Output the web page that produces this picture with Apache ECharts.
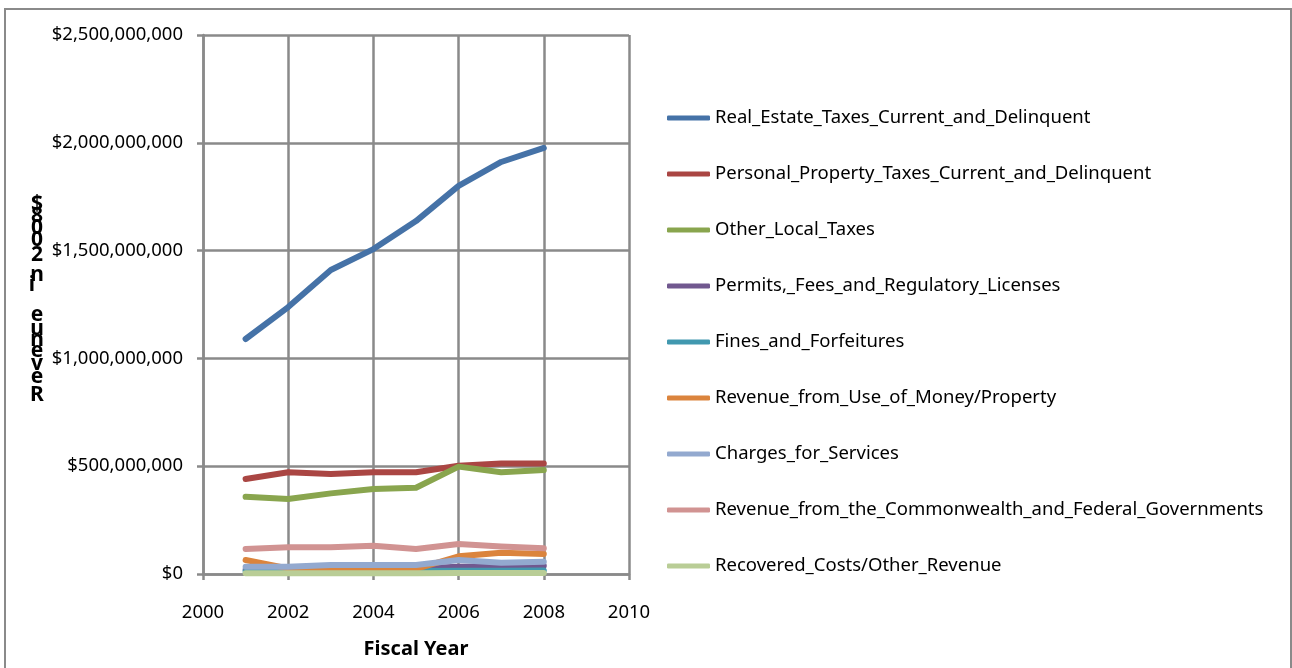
<!DOCTYPE html>
<html>
<head>
<meta charset="utf-8">
<title>Revenue by Source</title>
<script src="https://cdn.jsdelivr.net/npm/echarts@6/dist/echarts.min.js"></script>
<style>
  html, body { margin: 0; padding: 0; background: #ffffff; }
  #chart { width: 1292px; height: 668px; }
</style>
</head>
<body>
<div id="chart"></div>
<script>
// Fiscal years on the x axis
const years = [2001, 2002, 2003, 2004, 2005, 2006, 2007, 2008];

// Revenue by source, in dollars
const realEstate     = [1090e6, 1238e6, 1410e6, 1507e6, 1637e6, 1800e6, 1911e6, 1976e6];
const personalProp   = [441e6, 472e6, 464e6, 472e6, 472e6, 502e6, 513e6, 513e6];
const otherLocal     = [358e6, 348e6, 374e6, 394e6, 400e6, 498e6, 472e6, 482e6];
const permits        = [20e6, 22e6, 24e6, 25e6, 26e6, 34e6, 36e6, 38e6];
const fines          = [12e6, 12e6, 13e6, 13e6, 14e6, 15e6, 15e6, 16e6];
const useOfMoney     = [65e6, 26e6, 22e6, 22e6, 24e6, 82e6, 99e6, 93e6];
const charges        = [34e6, 34e6, 42e6, 42e6, 42e6, 65e6, 52e6, 57e6];
const commonwealth   = [116e6, 124e6, 124e6, 131e6, 116e6, 139e6, 127e6, 119e6];
const recovered      = [4e6, 4e6, 4e6, 4e6, 4e6, 5e6, 5e6, 5e6];

const seriesNames = [
  'Real_Estate_Taxes_Current_and_Delinquent',
  'Personal_Property_Taxes_Current_and_Delinquent',
  'Other_Local_Taxes',
  'Permits,_Fees_and_Regulatory_Licenses',
  'Fines_and_Forfeitures',
  'Revenue_from_Use_of_Money/Property',
  'Charges_for_Services',
  'Revenue_from_the_Commonwealth_and_Federal_Governments',
  'Recovered_Costs/Other_Revenue'
];
const seriesValues = [realEstate, personalProp, otherLocal, permits, fines,
                      useOfMoney, charges, commonwealth, recovered];
const seriesColors = ['#4572A7', '#AA4643', '#89A54E', '#71588F', '#4198AF',
                      '#DB843D', '#93A9CF', '#D19392', '#B9CD96'];

// Axis tick settings
const xMin = 2000, xMax = 2010, xStep = 2;
const yMin = 0, yMax = 2500000000, yStep = 500000000;

const xTitle = 'Fiscal Year';
// Vertical title, drawn one upright glyph at a time from the bottom up
const yTitleGlyphs = ['R', 'e', 'v', 'e', 'n', 'u', 'e', 'i', 'n', '2', '0', '0', '8', '$'];
const yTitleY      = [395, 377, 364, 351, 340, 329, 315, 285, 275, 255, 240, 228, 216, 204];
const yTitleX      = [37, 37, 37, 37, 37, 37, 37, 32, 37, 37, 37, 37, 37, 37];

const FONT = '"Noto Sans", "DejaVu Sans", sans-serif';
const GRID_COLOR = '#8a8a8a';

function money(v) {
  return '$' + Math.round(v).toString().replace(/\B(?=(\d{3})+(?!\d))/g, ',');
}

const chart = echarts.init(document.getElementById('chart'), null, { renderer: 'canvas' });

const series = seriesNames.map((name, i) => ({
  name: name,
  type: 'line',
  data: years.map((y, j) => [y, seriesValues[i][j]]),
  showSymbol: false,
  symbol: 'none',
  color: seriesColors[i],
  lineStyle: { width: 6, color: seriesColors[i], cap: 'round', join: 'round' },
  emphasis: { disabled: true },
  animation: false,
  z: 3
}));

const yTitle = yTitleGlyphs.map((ch, i) => ({
  type: 'text',
  x: yTitleX[i],
  y: yTitleY[i],
  style: {
    text: ch,
    font: 'bold 21px ' + FONT,
    fill: '#000',
    align: 'center',
    verticalAlign: 'middle'
  }
}));

chart.setOption({
  animation: false,
  backgroundColor: '#ffffff',
  grid: { left: 203, right: 663, top: 35, bottom: 94, containLabel: false },
  legend: {
    orient: 'vertical',
    left: 667,
    top: 108,
    padding: 0,
    itemWidth: 43,
    itemHeight: 5,
    itemGap: 36,
    icon: 'roundRect',
    selectedMode: false,
    textStyle: { fontFamily: FONT, fontSize: 18.5, color: '#000', lineHeight: 20 },
    data: seriesNames
  },
  xAxis: {
    type: 'value',
    min: xMin, max: xMax, interval: xStep,
    name: xTitle,
    nameLocation: 'middle',
    nameGap: 65,
    nameTextStyle: { fontFamily: FONT, fontSize: 20, fontWeight: 'bold', color: '#000' },
    axisLine: { show: true, onZero: false, lineStyle: { color: GRID_COLOR, width: 2.5 } },
    axisTick: { show: true, inside: false, length: 6, lineStyle: { color: GRID_COLOR, width: 2.5 } },
    axisLabel: { margin: 29, fontFamily: FONT, fontSize: 18.5, color: '#000',
                 formatter: v => String(v) },
    splitLine: { show: true, lineStyle: { color: GRID_COLOR, width: 2.5 } }
  },
  yAxis: {
    type: 'value',
    min: yMin, max: yMax, interval: yStep,
    axisLine: { show: true, lineStyle: { color: GRID_COLOR, width: 2.5 } },
    axisTick: { show: true, inside: false, length: 6, lineStyle: { color: GRID_COLOR, width: 2.5 } },
    axisLabel: { margin: 20, fontFamily: FONT, fontSize: 18.5, color: '#000', formatter: money },
    splitLine: { show: true, lineStyle: { color: GRID_COLOR, width: 2.5 } }
  },
  graphic: [
    {
      type: 'rect',
      z: -10,
      silent: true,
      shape: { x: 5, y: 9, width: 1286, height: 700 },
      style: { fill: 'none', stroke: GRID_COLOR, lineWidth: 2 }
    },
    { type: 'group', children: yTitle }
  ],
  series: series
});
</script>
</body>
</html>
